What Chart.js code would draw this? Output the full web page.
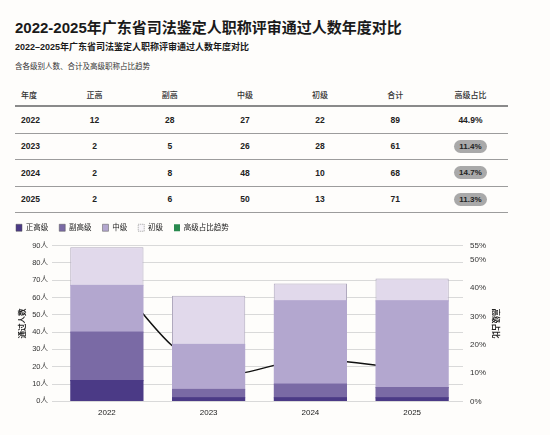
<!DOCTYPE html>
<html>
<head>
<meta charset="utf-8">
<script src="https://cdn.jsdelivr.net/npm/chart.js@4.4.1/dist/chart.umd.min.js"></script>
<style>
  html, body { margin:0; padding:0; }
  body { width:550px; height:435px; background:#fefdfb; position:relative; overflow:hidden;
         font-family:"Liberation Sans","Noto Sans CJK SC",sans-serif; color:#1a1a1a; }
  .t1 { position:absolute; left:15px; top:20px; font-size:15px; line-height:16px; font-weight:700; white-space:nowrap; }
  .t2 { position:absolute; left:15px; top:42px; font-size:9px; line-height:10px; font-weight:700; white-space:nowrap; }
  .t3 { position:absolute; left:15px; top:62px; font-size:7.5px; line-height:9px; font-weight:400; color:#333; white-space:nowrap; }
  #tbl { position:absolute; left:15px; top:84px; width:493px; }
  .row { display:flex; box-sizing:border-box; align-items:center; }
  .hdr { height:23px; border-bottom:2px solid #8a8a8a; font-size:8px; font-weight:500; color:#333; }
  .body { height:26.5px; border-bottom:1.5px solid #9c9c9c; font-size:8.5px; font-weight:700; color:#222; }
  .c0 { width:42px; padding-left:6px; box-sizing:border-box; text-align:left; }
  .c { width:75.2px; text-align:center; }
  .pill { display:inline-block; background:#a9a9a9; border-radius:7px; padding:2px 5px; font-size:8px; line-height:9px; color:#222; }
  #wrap { position:absolute; left:0; top:213px; width:550px; height:222px; }
</style>
</head>
<body>
<div class="t1">2022-2025年广东省司法鉴定人职称评审通过人数年度对比</div>
<div class="t2">2022–2025年广东省司法鉴定人职称评审通过人数年度对比</div>
<div class="t3">含各级别人数、合计及高级职称占比趋势</div>
<div id="tbl"></div>
<div id="wrap"><canvas id="c"></canvas></div>
<script>
const years = ['2022', '2023', '2024', '2025'];
const zhengGao = [12, 2, 2, 2];
const fuGao = [28, 5, 8, 6];
const zhongJi = [27, 26, 48, 50];
const chuJi = [22, 28, 10, 13];
const totals = [89, 61, 68, 71];
const seniorPct = [44.9, 11.4, 14.7, 11.3];
const tableHeaders = ['年度', '正高', '副高', '中级', '初级', '合计', '高级占比'];
const seriesNames = ['正高级', '副高级', '中级', '初级', '高级占比趋势'];
const leftTicks = [0, 10, 20, 30, 40, 50, 60, 70, 80, 90];
const rightTicks = [0, 10, 20, 30, 40, 50, 55];

// table
const tbl = document.getElementById('tbl');
let h = '<div class="row hdr">';
tableHeaders.forEach((t, i) => { h += '<div class="' + (i === 0 ? 'c0' : 'c') + '">' + t + '</div>'; });
h += '</div>';
years.forEach((y, i) => {
  const pct = seniorPct[i].toFixed(1) + '%';
  h += '<div class="row body"><div class="c0">' + y + '</div>' +
    '<div class="c">' + zhengGao[i] + '</div><div class="c">' + fuGao[i] + '</div>' +
    '<div class="c">' + zhongJi[i] + '</div><div class="c">' + chuJi[i] + '</div>' +
    '<div class="c">' + totals[i] + '</div>' +
    '<div class="c">' + (i === 0 ? pct : '<span class="pill">' + pct + '</span>') + '</div></div>';
});
tbl.innerHTML = h;

const C1 = '#4b3a86', C2 = '#7a6aa5', C3 = '#b3a7cf', C4 = '#e1d9eb', GREEN = '#2a8a4f';
const FONT = '"Liberation Sans","Noto Sans CJK SC",sans-serif';

const legendSpacer = {
  id: 'legendSpacer',
  beforeUpdate(chart) {
    const lg = chart.legend;
    if (lg && !lg._patched) {
      const fit = lg.fit;
      lg.fit = function () { fit.call(this); this.height += 4; };
      lg._patched = true;
    }
  }
};

// lower stack segments: hairline top border + inflation so seams stay closed
const seamFix = c => ({ backgroundColor: c, borderColor: c, borderWidth: { top: 0.01, left: 0, right: 0, bottom: 0 },
                        borderSkipped: false, inflateAmount: 0.6 });

new Chart(document.getElementById('c'), {
  data: {
    labels: years,
    datasets: [
      Object.assign({ type: 'bar', label: seriesNames[0], data: zhengGao, yAxisID: 'y', order: 1 }, seamFix(C1)),
      Object.assign({ type: 'bar', label: seriesNames[1], data: fuGao, yAxisID: 'y', order: 1 }, seamFix(C2)),
      Object.assign({ type: 'bar', label: seriesNames[2], data: zhongJi, yAxisID: 'y', order: 1 }, seamFix(C3)),
      { type: 'bar', label: seriesNames[3], data: chuJi, backgroundColor: C4, borderColor: '#b0a9be',
        borderWidth: { top: 1, left: 1, right: 1, bottom: 0 }, borderSkipped: false, inflateAmount: 0, yAxisID: 'y', order: 1 },
      { type: 'line', label: seriesNames[4], data: seniorPct, yAxisID: 'y1', order: 10,
        borderColor: '#111', backgroundColor: GREEN, borderWidth: 1.5, pointRadius: 0, tension: 0.4, stack: 'pct' }
    ]
  },
  options: {
    responsive: true,
    maintainAspectRatio: false,
    animation: false,
    layout: { padding: { left: 5, right: 45, top: 0, bottom: 10 } },
    plugins: {
      tooltip: { enabled: false },
      legend: {
        position: 'top', align: 'start',
        labels: {
          boxWidth: 6, boxHeight: 7, padding: 11, color: '#222',
          font: { family: FONT, size: 7.5 },
          generateLabels(chart) {
            const items = Chart.defaults.plugins.legend.labels.generateLabels(chart);
            items.forEach(it => {
              if (it.datasetIndex === 4) { it.fillStyle = GREEN; it.strokeStyle = GREEN; it.lineWidth = 0; }
              else if (it.datasetIndex === 3) { it.fillStyle = '#f8f6fa'; it.strokeStyle = '#8a8a8a'; it.lineWidth = 0.8; it.lineDash = [1, 1]; }
              else { it.strokeStyle = '#555'; it.lineWidth = 0.5; }
            });
            return items;
          }
        }
      }
    },
    scales: {
      x: {
        stacked: true,
        grid: { display: false, drawTicks: false },
        border: { display: false },
        ticks: { padding: 7, color: '#222', font: { family: FONT, size: 8 } },
        categoryPercentage: 1.0,
        barPercentage: 0.717
      },
      y: {
        stacked: true, position: 'left', min: 0, max: 90,
        afterBuildTicks: s => { s.ticks = leftTicks.map(v => ({ value: v })); },
        afterFit: s => { s.width = 51; },
        grid: { color: '#d9d9d9', lineWidth: 1, drawTicks: true, tickLength: 4, tickColor: '#d9d9d9' },
        border: { display: false },
        ticks: { padding: 4, color: '#333', font: { family: FONT, size: 7.5 }, callback: v => v + '人' },
        title: { display: true, text: '通过人数', color: '#222', font: { family: FONT, size: 7.5, weight: 'bold' }, padding: { top: 13.5, bottom: 0 } }
      },
      y1: {
        stacked: false, position: 'right', min: 0, max: 55,
        afterBuildTicks: s => { s.ticks = rightTicks.map(v => ({ value: v })); },
        afterFit: s => { s.width = 42; },
        grid: { display: false, drawTicks: false },
        border: { display: false },
        ticks: { padding: 7, color: '#333', font: { family: FONT, size: 8 }, callback: v => v + '%' },
        title: { display: true, text: '高级占比', color: '#222', font: { family: FONT, size: 7.5, weight: 'bold' }, padding: { top: 5.5, bottom: 0 } }
      }
    }
  },
  plugins: [legendSpacer]
});
</script>
</body>
</html>
